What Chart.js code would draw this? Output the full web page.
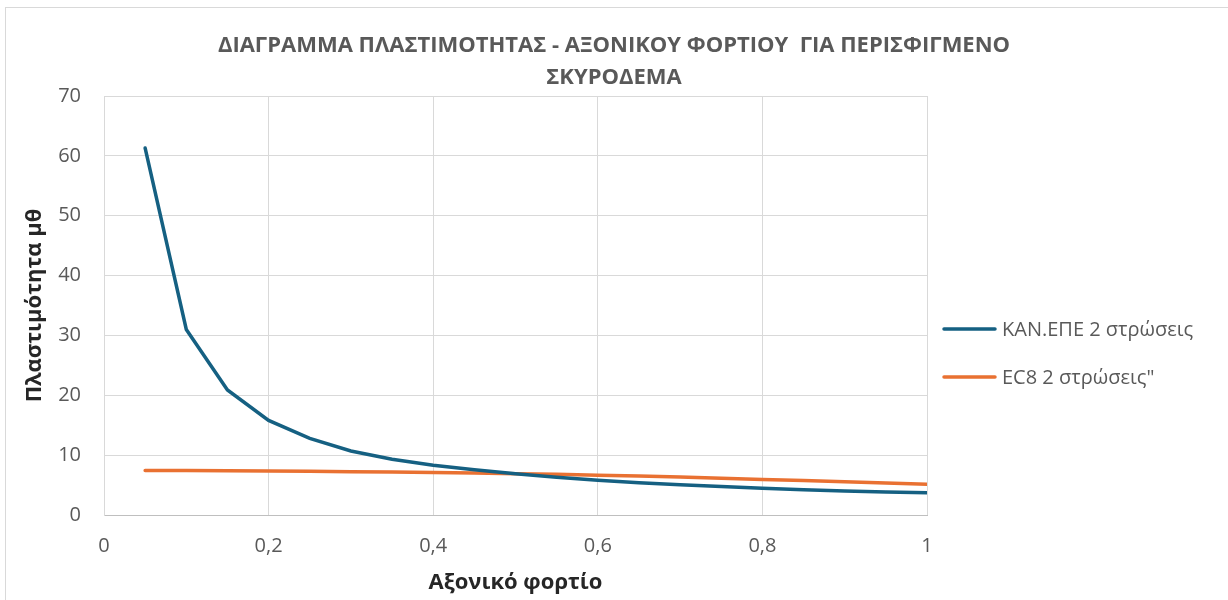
<!DOCTYPE html>
<html>
<head>
<meta charset="utf-8">
<script src="https://cdn.jsdelivr.net/npm/chart.js@4"></script>
<style>
  html, body { margin: 0; padding: 0; background: #fff; }
  canvas { display: block; }
</style>
</head>
<body>
<canvas id="myChart" width="1228" height="600"></canvas>
<script>
// Axial load values (x)
const axialLoad = [0.05, 0.10, 0.15, 0.20, 0.25, 0.30, 0.35, 0.40, 0.45, 0.50,
                   0.55, 0.60, 0.65, 0.70, 0.75, 0.80, 0.85, 0.90, 0.95, 1.00];
// ΚΑΝ.ΕΠΕ 2 στρώσεις
const kanEpe = [61.3, 31.0, 20.9, 15.8, 12.8, 10.7, 9.3, 8.3, 7.55, 6.9,
                6.3, 5.8, 5.4, 5.05, 4.75, 4.45, 4.2, 4.0, 3.85, 3.7];
// EC8 2 στρώσεις
const ec8 = [7.45, 7.42, 7.38, 7.34, 7.29, 7.23, 7.17, 7.1, 7.0, 6.9,
             6.8, 6.65, 6.5, 6.35, 6.15, 5.95, 5.75, 5.55, 5.35, 5.15];

const seriesNames = ['ΚΑΝ.ΕΠΕ 2 στρώσεις', 'EC8 2 στρώσεις"'];
const titleLines = ['ΔΙΑΓΡΑΜΜΑ ΠΛΑΣΤΙΜΟΤΗΤΑΣ - ΑΞΟΝΙΚΟΥ ΦΟΡΤΙΟΥ  ΓΙΑ ΠΕΡΙΣΦΙΓΜΕΝΟ', 'ΣΚΥΡΟΔΕΜΑ'];
const xTitle = 'Αξονικό φορτίο';
const yTitle = 'Πλαστιμότητα μθ';

const FONT = "'Open Sans', 'Noto Sans', sans-serif";

function toPoints(ys) {
  return axialLoad.map((x, i) => ({ x: x, y: ys[i] }));
}

// outer border of the chart box
const borderPlugin = {
  id: 'outerBorder',
  beforeDraw(chart) {
    const ctx = chart.ctx;
    ctx.save();
    ctx.fillStyle = '#fff';
    ctx.fillRect(0, 0, chart.width, chart.height);
    ctx.strokeStyle = '#d9d9d9';
    ctx.lineWidth = 1;
    ctx.strokeRect(5.5, 7.5, chart.width + 10, chart.height + 10);
    ctx.restore();
  }
};

// legend on the right, Excel style
const sideLegend = {
  id: 'sideLegend',
  afterDraw(chart) {
    const ctx = chart.ctx;
    const x0 = chart.chartArea.right + 17;
    ctx.save();
    ctx.font = '20px ' + FONT;
    ctx.textBaseline = 'middle';
    ctx.textAlign = 'left';
    chart.data.datasets.forEach((ds, i) => {
      const y = chart.chartArea.top + 233 + i * 48;
      ctx.strokeStyle = ds.borderColor;
      ctx.lineWidth = 3.5;
      ctx.lineCap = 'round';
      ctx.beginPath();
      ctx.moveTo(x0, y);
      ctx.lineTo(x0 + 51, y);
      ctx.stroke();
      ctx.fillStyle = '#595959';
      ctx.fillText(ds.label, x0 + 58, y + 1);
    });
    ctx.restore();
  }
};

let ctx = document.getElementById('myChart').getContext('2d');
let myChart = new Chart(ctx, {
  type: 'line',
  data: {
    datasets: [{
      label: seriesNames[0],
      data: toPoints(kanEpe),
      borderColor: '#156082',
      borderWidth: 3.5,
      pointRadius: 0,
      tension: 0,
      borderCapStyle: 'round'
    }, {
      label: seriesNames[1],
      data: toPoints(ec8),
      borderColor: '#E97132',
      borderWidth: 3.5,
      pointRadius: 0,
      tension: 0,
      borderCapStyle: 'round'
    }]
  },
  plugins: [borderPlugin, sideLegend],
  options: {
    responsive: false,
    animation: false,
    layout: { padding: 0 },
    plugins: {
      legend: { display: false },
      tooltip: { enabled: false },
      title: {
        display: true,
        text: titleLines,
        color: '#595959',
        font: { family: FONT, size: 22, weight: 'bold', lineHeight: 32 / 22 },
        padding: { top: 30, bottom: 2 }
      }
    },
    scales: {
      x: {
        type: 'linear',
        min: 0,
        max: 1,
        ticks: {
          stepSize: 0.2,
          color: '#595959',
          font: { family: FONT, size: 20 },
          padding: 19,
          callback: v => String(Math.round(v * 10) / 10).replace('.', ',')
        },
        grid: { color: '#d9d9d9', drawTicks: false },
        border: { color: '#bfbfbf', width: 1 },
        title: {
          display: true,
          text: xTitle,
          color: '#262626',
          font: { family: FONT, size: 22, weight: 'bold' },
          padding: { top: 0, bottom: 4 }
        },
        afterFit(scale) { scale.height = 85; }
      },
      y: {
        min: 0,
        max: 70,
        ticks: {
          stepSize: 10,
          color: '#595959',
          font: { family: FONT, size: 20 },
          padding: 23
        },
        grid: { color: '#d9d9d9', drawTicks: false },
        border: { color: '#d9d9d9' },
        title: {
          display: true,
          text: yTitle,
          color: '#262626',
          font: { family: FONT, size: 22, weight: 'bold' },
          padding: { top: 22, bottom: 0 }
        },
        afterFit(scale) { scale.width = 104; }
      },
      // empty space on the right for the legend
      side: {
        position: 'right',
        display: true,
        grid: { display: false },
        ticks: { display: false },
        border: { display: false },
        afterFit(scale) { scale.width = 301; }
      }
    }
  }
});
</script>
</body>
</html>
